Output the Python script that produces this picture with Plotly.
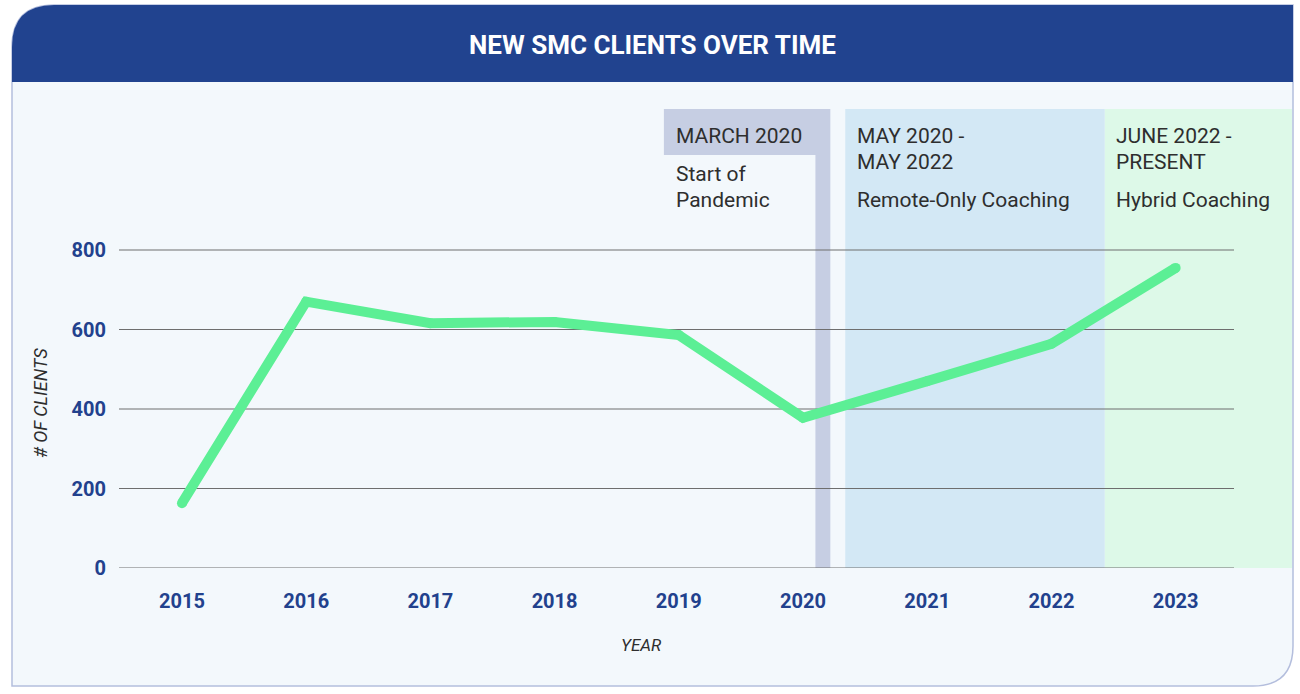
import plotly.graph_objects as go

# ---- data ----
years = [2015, 2016, 2017, 2018, 2019, 2020, 2021, 2022, 2023]
clients = [163, 670, 616, 619, 586, 378, 470, 564, 755]
y_ticks = [0, 200, 400, 600, 800]
x_labels = [str(y) for y in years]

# period bands (fractional years)
march_2020 = (2020.10, 2020.22)
remote_period = (2020.34, 2022.43)
hybrid_period = (2022.43, 2023.94)

# ---- layout geometry (pixels of the 1300x694 canvas) ----
W, H = 1300, 694
PL, PR, PT, PB = 119, 1292, 109, 568   # plot area
X_RANGE = [2014.493, 2023.937]
Y_RANGE = [0, 1154.7]

def px(xp):
    return (xp - PL) / (PR - PL)

def py(yp):
    return (PB - yp) / (PB - PT)

HEADER_BLUE = "#21438f"
BODY = "#f3f8fc"
BORDER = "#b4bedd"
TICK_BLUE = "#22418d"
TEXT = "#2e2e2e"
LINE_GREEN = "#5cef95"

fig = go.Figure()
fig.add_trace(go.Scatter(
    x=years, y=clients, mode="lines+markers",
    line=dict(color=LINE_GREEN, width=10),
    marker=dict(color=LINE_GREEN, size=10),
    hoverinfo="x+y", showlegend=False,
))

shapes = []
# card body
L, R, T, B, HB = 12, 1293, 5, 686, 82
r1, r2 = 42, 40
card_path = (f"M {px(L)},{py(T + r1)} Q {px(L)},{py(T)} {px(L + r1)},{py(T)} "
             f"L {px(R)},{py(T)} L {px(R)},{py(B - r2)} "
             f"Q {px(R)},{py(B)} {px(R - r2)},{py(B)} L {px(L)},{py(B)} Z")
shapes.append(dict(type="path", xref="paper", yref="paper", path=card_path,
                   fillcolor=BODY, line=dict(color=BORDER, width=1.5), layer="below"))
header_path = (f"M {px(L)},{py(T + r1)} Q {px(L)},{py(T)} {px(L + r1)},{py(T)} "
               f"L {px(R)},{py(T)} L {px(R)},{py(HB)} L {px(L)},{py(HB)} Z")
shapes.append(dict(type="path", xref="paper", yref="paper", path=header_path,
                   fillcolor=HEADER_BLUE, line=dict(width=0), layer="below"))

# period bands
label_box_bottom = 1039
shapes.append(dict(type="rect", xref="x", yref="y", x0=2018.88, x1=march_2020[1],
                   y0=label_box_bottom, y1=Y_RANGE[1], fillcolor="#c6cee3",
                   line=dict(width=0), layer="below"))
shapes.append(dict(type="rect", xref="x", yref="y", x0=march_2020[0], x1=march_2020[1],
                   y0=0, y1=label_box_bottom, fillcolor="#c6cee3",
                   line=dict(width=0), layer="below"))
shapes.append(dict(type="rect", xref="x", yref="y", x0=remote_period[0], x1=remote_period[1],
                   y0=0, y1=Y_RANGE[1], fillcolor="#d3e8f5",
                   line=dict(width=0), layer="below"))
shapes.append(dict(type="rect", xref="x", yref="y", x0=hybrid_period[0], x1=hybrid_period[1],
                   y0=0, y1=Y_RANGE[1], fillcolor="#ddf9e8",
                   line=dict(width=0), layer="below"))

# gridlines
for t in y_ticks:
    shapes.append(dict(type="line", xref="x", yref="y", x0=2014.493, x1=2023.47,
                       y0=t, y1=t, line=dict(color="#6e6e6e", width=1.2), layer="between"))

annotations = []
annotations.append(dict(text="<b>NEW SMC CLIENTS OVER TIME</b>", xref="paper", yref="paper",
                        x=px(652), y=py(45), xanchor="center", yanchor="middle",
                        showarrow=False, font=dict(family="Roboto", size=26, color="white")))

band_font = dict(family="Roboto", size=21, color=TEXT)
band_texts = [
    (674, 136, "MARCH 2020"), (674, 174, "Start of"), (674, 200, "Pandemic"),
    (855, 136, "MAY 2020 -"), (855, 162, "MAY 2022"), (855, 200, "Remote-Only Coaching"),
    (1114, 136, "JUNE 2022 -"), (1114, 162, "PRESENT"), (1114, 200, "Hybrid Coaching"),
]
for xp, yp, t in band_texts:
    annotations.append(dict(text=t, xref="paper", yref="paper", x=px(xp), y=py(yp),
                            xanchor="left", yanchor="middle", showarrow=False,
                            font=band_font))

annotations.append(dict(text="<i># OF CLIENTS</i>", xref="paper", yref="paper",
                        x=px(40), y=py(403), xanchor="center", yanchor="middle",
                        textangle=-90, showarrow=False,
                        font=dict(family="Roboto", size=18, color=TEXT)))
annotations.append(dict(text="<i>YEAR</i>", xref="paper", yref="paper",
                        x=px(641), y=py(645), xanchor="center", yanchor="middle",
                        showarrow=False, font=dict(family="Roboto", size=17, color=TEXT)))

fig.update_layout(
    width=W, height=H,
    margin=dict(l=PL, r=W - PR, t=PT, b=H - PB, pad=0),
    paper_bgcolor="white", plot_bgcolor="rgba(0,0,0,0)",
    shapes=shapes, annotations=annotations,
    xaxis=dict(range=X_RANGE, tickvals=years, ticktext=[f"<b>{s}</b>" for s in x_labels],
               showgrid=False, zeroline=False, showline=False, ticks="",
               tickfont=dict(family="Roboto", size=20, color=TICK_BLUE),
               ticklabelstandoff=19, fixedrange=True),
    yaxis=dict(range=Y_RANGE, tickvals=y_ticks, ticktext=[f"<b>{v}</b>" for v in y_ticks],
               showgrid=False, zeroline=False, showline=False, ticks="",
               tickfont=dict(family="Roboto", size=20, color=TICK_BLUE),
               ticklabelstandoff=12, fixedrange=True),
    showlegend=False,
)

fig.write_html("out.html", config={"displayModeBar": False},
               post_script="document.body.style.margin='0';document.body.style.overflow='hidden';")
